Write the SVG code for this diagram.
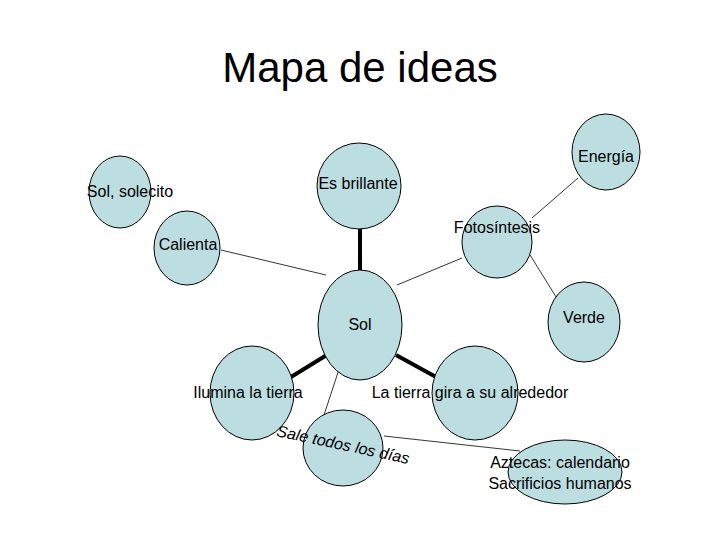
<svg xmlns="http://www.w3.org/2000/svg" width="720" height="540" viewBox="0 0 720 540">
<style>
.n{fill:#bcdee1;stroke:#000;stroke-width:1}
.t{font-family:"Liberation Sans",Arial,sans-serif;font-size:16px;text-anchor:middle;fill:#000}
.thin{stroke:#000;stroke-width:0.8}
.thick{stroke:#000;stroke-width:4}
</style>
<rect width="720" height="540" fill="#fff"/>
<text x="360" y="82" style="font-family:'Liberation Sans',Arial,sans-serif;font-size:42px;text-anchor:middle">Mapa de ideas</text>
<g id="connectors">
<line class="thick" x1="360" y1="228" x2="360" y2="271"/>
<line class="thick" x1="330" y1="353" x2="291" y2="377"/>
<line class="thick" x1="396" y1="355" x2="436" y2="377"/>
<line class="thin" x1="221" y1="250" x2="326" y2="275"/>
<line class="thin" x1="462" y1="258" x2="397" y2="285"/>
<line class="thin" x1="532" y1="218" x2="578" y2="178"/>
<line class="thin" x1="530" y1="255" x2="558" y2="300"/>
<line class="thin" x1="347" y1="345" x2="324" y2="415"/>
<line class="thin" x1="384" y1="436" x2="520" y2="451"/>
</g>
<g id="solecito"><ellipse class="n" cx="120" cy="192" rx="31" ry="36"/><text class="t" x="130" y="197">Sol, solecito</text></g>
<g id="calienta"><ellipse class="n" cx="187" cy="248" rx="33" ry="37"/><text class="t" x="188" y="250">Calienta</text></g>
<g id="brillante"><ellipse class="n" cx="359" cy="186" rx="42" ry="43"/><text class="t" x="358" y="189">Es brillante</text></g>
<g id="energia"><ellipse class="n" cx="606" cy="152" rx="34" ry="38"/><text class="t" x="606" y="162">Energía</text></g>
<g id="fotosintesis"><ellipse class="n" cx="497" cy="242" rx="35" ry="36"/><text class="t" x="497" y="233">Fotosíntesis</text></g>
<g id="verde"><ellipse class="n" cx="584" cy="322" rx="36" ry="40"/><text class="t" x="584" y="323">Verde</text></g>
<g id="sol"><ellipse class="n" cx="360" cy="325" rx="42" ry="55"/><text class="t" x="360" y="330">Sol</text></g>
<g id="ilumina"><ellipse class="n" cx="252" cy="393" rx="42" ry="47"/><text class="t" x="248" y="398">Ilumina la tierra</text></g>
<g id="tierra"><ellipse class="n" cx="475" cy="393" rx="43" ry="47"/><text class="t" x="470" y="398">La tierra gira a su alrededor</text></g>
<g id="sale"><ellipse class="n" cx="343" cy="448" rx="40" ry="38"/><text class="t" x="342" y="450" transform="rotate(12 342 450)" font-style="italic">Sale todos los días</text></g>
<g id="aztecas"><ellipse class="n" cx="565" cy="472" rx="57" ry="32"/><text class="t" x="560" y="468">Aztecas: calendario</text><text class="t" x="560" y="489">Sacrificios humanos</text></g>
</svg>
